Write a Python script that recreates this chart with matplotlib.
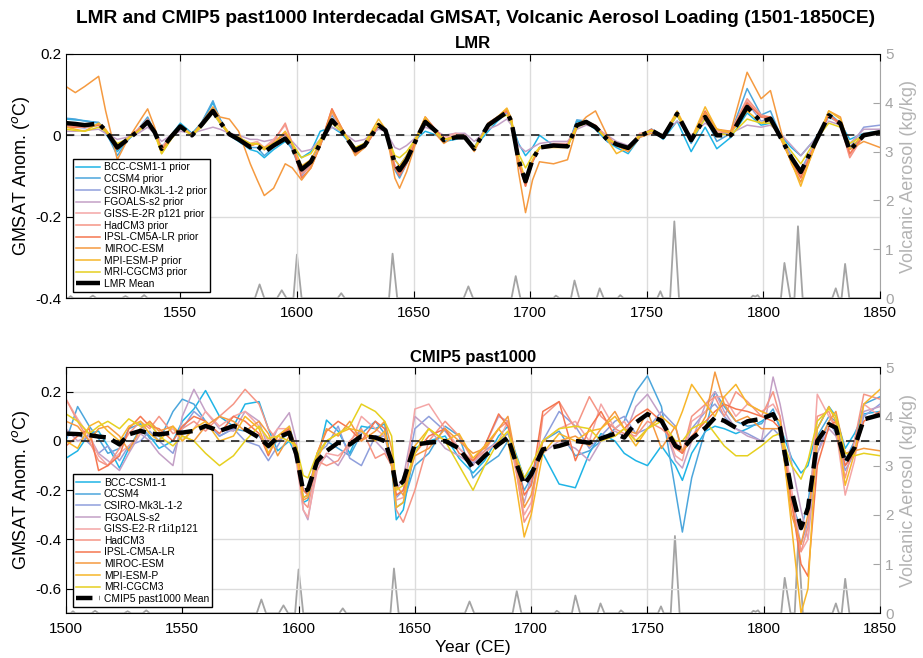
import matplotlib
matplotlib.use("Agg")
import matplotlib.pyplot as plt

plt.rcParams["font.family"] = ["Liberation Sans", "DejaVu Sans"]
plt.rcParams["axes.unicode_minus"] = False

names = ["BCC-CSM1-1", "CCSM4", "CSIRO-Mk3L-1-2", "FGOALS-s2", "GISS-E2-R r1i1p121",
         "HadCM3", "IPSL-CM5A-LR", "MIROC-ESM", "MPI-ESM-P", "MRI-CGCM3"]
lmr_names = ["BCC-CSM1-1 prior", "CCSM4 prior", "CSIRO-Mk3L-1-2 prior", "FGOALS-s2 prior",
             "GISS-E-2R p121 prior", "HadCM3 prior", "IPSL-CM5A-LR prior", "MIROC-ESM",
             "MPI-ESM-P prior", "MRI-CGCM3 prior"]
colors = ["#1fb4e6", "#4ca6dc", "#8f9fdc", "#c3a0c6", "#f4a6a6",
          "#f59585", "#f57650", "#f59a40", "#f7b62a", "#e6d020"]

# ---------------- LMR panel ----------------
yr_t = [1501, 1505, 1509, 1515, 1518, 1523, 1527, 1532, 1536, 1539,
        1542, 1546, 1550, 1555, 1559, 1564, 1567, 1571, 1575, 1580,
        1583, 1586, 1590, 1595, 1598, 1602, 1606, 1610, 1615, 1619,
        1625, 1629, 1635, 1638, 1642, 1644, 1647, 1652, 1655, 1660,
        1663, 1668, 1672, 1676, 1682, 1686, 1690, 1692, 1695, 1698,
        1701, 1704, 1710, 1716, 1720, 1724, 1728, 1733, 1737, 1742,
        1747, 1752, 1757, 1763, 1769, 1775, 1780, 1786, 1793, 1799,
        1803, 1808, 1812, 1816, 1822, 1828, 1833, 1837, 1843, 1850]

lmr_mean = [0.030, 0.028, 0.025, 0.029, 0.012, -0.030, -0.012, 0.011, 0.033, 0.008,
            -0.033, -0.004, 0.022, 0.000, 0.025, 0.060, 0.033, 0.003, -0.010, -0.029,
            -0.025, -0.041, -0.025, -0.008, -0.029, -0.084, -0.065, -0.020, 0.037, 0.012,
            -0.037, -0.025, 0.025, 0.012, -0.070, -0.086, -0.061, 0.000, 0.033, 0.008,
            -0.012, -0.005, -0.005, -0.033, 0.025, 0.041, 0.057, 0.033, -0.061, -0.113,
            -0.060, -0.030, -0.025, -0.027, 0.025, 0.033, 0.020, -0.010, -0.022, -0.031,
            -0.002, 0.012, -0.004, 0.053, -0.012, 0.045, 0.000, 0.000, 0.070, 0.033,
            0.041, -0.012, -0.055, -0.090, -0.020, 0.049, 0.029, -0.037, 0.000, 0.008]

lmr_bcc = [0.040, 0.038, 0.036, 0.030, 0.005, -0.040, -0.015, 0.015, 0.040, 0.010,
           -0.030, 0.000, 0.030, 0.005, 0.030, 0.080, 0.040, 0.000, -0.015, -0.035,
           -0.040, -0.055, -0.035, -0.015, -0.030, -0.055, -0.040, 0.010, 0.020, 0.005,
           -0.035, -0.020, 0.020, 0.010, -0.060, -0.075, -0.050, -0.005, 0.010, 0.000,
           -0.015, -0.010, 0.000, -0.030, 0.010, 0.035, 0.055, 0.030, -0.020, -0.050,
           -0.030, 0.000, -0.025, -0.030, 0.035, 0.030, 0.015, -0.015, -0.030, -0.045,
           -0.005, 0.015, -0.010, 0.035, -0.040, 0.020, -0.033, -0.005, 0.055, 0.025,
           0.030, -0.005, -0.030, -0.050, -0.010, 0.045, 0.030, -0.010, 0.005, 0.010]
lmr_ccsm4 = [0.042, 0.040, 0.035, 0.032, 0.010, -0.050, -0.015, 0.015, 0.045, 0.010,
             -0.035, -0.005, 0.025, 0.000, 0.030, 0.085, 0.040, 0.000, -0.010, -0.030,
             -0.030, -0.050, -0.030, -0.010, -0.035, -0.095, -0.070, -0.015, 0.050, 0.015,
             -0.045, -0.030, 0.025, 0.012, -0.085, -0.105, -0.070, 0.005, 0.040, 0.010,
             -0.015, 0.000, -0.005, -0.030, 0.030, 0.045, 0.060, 0.035, -0.060, -0.120,
             -0.065, -0.030, -0.025, -0.030, 0.038, 0.035, 0.020, -0.015, -0.025, -0.035,
             0.000, 0.015, 0.000, 0.050, -0.020, 0.045, -0.015, 0.005, 0.115, 0.050,
             0.060, -0.010, -0.060, -0.095, -0.020, 0.055, 0.030, -0.035, 0.000, 0.010]
lmr_csiro = [0.020, 0.020, 0.018, 0.025, 0.010, -0.025, -0.010, 0.010, 0.030, 0.005,
             -0.030, -0.005, 0.020, 0.002, 0.020, 0.055, 0.030, 0.003, -0.010, -0.025,
             -0.020, -0.035, -0.020, -0.005, -0.025, -0.100, -0.070, -0.025, 0.040, 0.015,
             -0.035, -0.020, 0.025, 0.010, -0.075, -0.095, -0.065, 0.000, 0.035, 0.010,
             -0.010, -0.005, -0.005, -0.030, 0.025, 0.040, 0.055, 0.030, -0.060, -0.115,
             -0.065, -0.030, -0.025, -0.025, 0.025, 0.030, 0.020, -0.008, -0.020, -0.030,
             -0.003, 0.010, -0.005, 0.050, -0.010, 0.050, 0.005, 0.005, 0.080, 0.035,
             0.040, -0.005, -0.050, -0.085, -0.020, 0.050, 0.030, -0.030, 0.020, 0.025]
lmr_fgoals = [0.010, 0.010, 0.012, 0.015, 0.005, -0.010, -0.005, 0.005, 0.020, 0.005,
              -0.015, 0.000, 0.010, 0.005, 0.012, 0.020, 0.015, 0.005, 0.000, -0.010,
              -0.010, -0.015, -0.010, 0.000, -0.015, -0.040, -0.035, -0.010, 0.020, 0.010,
              -0.015, -0.010, 0.015, 0.010, -0.030, -0.035, -0.025, 0.000, 0.020, 0.010,
              0.000, 0.005, 0.005, -0.015, 0.015, 0.025, 0.040, 0.025, -0.025, -0.040,
              -0.030, -0.020, -0.015, -0.015, 0.015, 0.025, 0.020, 0.000, -0.015, -0.025,
              0.000, 0.010, 0.000, 0.035, 0.000, 0.030, 0.010, 0.005, 0.025, 0.020,
              0.025, 0.000, -0.025, -0.050, -0.010, 0.035, 0.025, -0.020, 0.015, 0.015]
lmr_giss = [0.020, 0.020, 0.020, 0.025, 0.012, -0.030, -0.010, 0.015, 0.035, 0.010,
            -0.030, 0.000, 0.025, 0.002, 0.025, 0.060, 0.035, 0.005, -0.005, -0.020,
            -0.015, -0.030, -0.010, 0.025, -0.020, -0.090, -0.070, -0.025, 0.055, 0.015,
            -0.040, -0.030, 0.025, 0.012, -0.075, -0.090, -0.065, 0.005, 0.040, 0.010,
            -0.005, 0.005, 0.000, -0.035, 0.030, 0.045, 0.060, 0.035, -0.065, -0.120,
            -0.065, -0.030, -0.020, -0.020, 0.025, 0.030, 0.025, -0.005, -0.020, -0.030,
            0.005, 0.010, 0.000, 0.055, -0.010, 0.050, 0.010, 0.010, 0.085, 0.045,
            0.040, -0.010, -0.065, -0.100, -0.020, 0.050, 0.025, -0.050, 0.005, 0.005]
lmr_hadcm3 = [0.025, 0.022, 0.020, 0.025, 0.010, -0.035, -0.010, 0.015, 0.040, 0.010,
              -0.035, -0.005, 0.022, 0.000, 0.025, 0.060, 0.035, 0.000, -0.010, -0.025,
              -0.020, -0.035, -0.015, 0.030, -0.020, -0.095, -0.075, -0.025, 0.065, 0.020,
              -0.045, -0.030, 0.025, 0.015, -0.080, -0.095, -0.065, 0.005, 0.045, 0.010,
              -0.010, 0.000, 0.000, -0.035, 0.030, 0.045, 0.060, 0.035, -0.070, -0.125,
              -0.065, -0.030, -0.025, -0.025, 0.025, 0.035, 0.025, -0.010, -0.025, -0.035,
              0.000, 0.010, -0.005, 0.055, -0.010, 0.050, 0.005, 0.010, 0.090, 0.050,
              0.045, -0.015, -0.065, -0.100, -0.025, 0.050, 0.025, -0.055, 0.000, 0.005]
lmr_ipsl = [0.020, 0.020, 0.022, 0.025, 0.010, -0.030, -0.010, 0.012, 0.035, 0.008,
            -0.035, -0.005, 0.020, 0.000, 0.025, 0.060, 0.035, 0.000, -0.010, -0.025,
            -0.020, -0.035, -0.020, 0.005, -0.025, -0.105, -0.080, -0.025, 0.065, 0.020,
            -0.045, -0.030, 0.025, 0.012, -0.080, -0.100, -0.070, 0.000, 0.045, 0.010,
            -0.010, -0.005, -0.005, -0.035, 0.025, 0.045, 0.060, 0.035, -0.065, -0.125,
            -0.065, -0.030, -0.025, -0.025, 0.025, 0.030, 0.020, -0.010, -0.025, -0.035,
            0.000, 0.015, -0.005, 0.055, -0.010, 0.060, 0.015, 0.005, 0.080, 0.045,
            0.045, -0.015, -0.065, -0.105, -0.025, 0.050, 0.030, -0.045, 0.000, 0.005]
lmr_miroc = [0.120, 0.105, 0.120, 0.145, 0.060, -0.060, -0.015, 0.030, 0.065, 0.020,
             -0.040, 0.000, 0.025, 0.000, 0.030, 0.070, 0.045, 0.040, 0.010, -0.070,
             -0.110, -0.148, -0.130, -0.070, -0.080, -0.110, -0.080, -0.025, 0.060, 0.020,
             -0.050, -0.030, 0.030, 0.015, -0.105, -0.130, -0.090, 0.000, 0.040, 0.000,
             -0.020, 0.000, -0.005, -0.040, 0.030, 0.045, 0.065, 0.040, -0.090, -0.190,
             -0.110, -0.065, -0.070, -0.060, 0.020, 0.045, 0.060, 0.000, -0.025, -0.040,
             -0.005, 0.005, 0.000, 0.050, -0.010, 0.055, 0.015, 0.010, 0.155, 0.090,
             0.110, 0.000, -0.070, -0.115, -0.030, 0.060, 0.045, -0.035, -0.015, -0.030]
lmr_mpi = [0.020, 0.015, 0.010, 0.030, 0.015, -0.025, -0.010, 0.010, 0.030, 0.005,
           -0.045, -0.010, 0.020, 0.000, 0.025, 0.065, 0.035, 0.005, -0.005, -0.025,
           -0.020, -0.030, -0.020, 0.010, -0.020, -0.075, -0.060, -0.015, 0.040, 0.015,
           -0.030, -0.020, 0.040, 0.015, -0.060, -0.075, -0.050, 0.005, 0.045, 0.005,
           -0.010, -0.005, -0.005, -0.035, 0.025, 0.045, 0.067, 0.040, -0.055, -0.110,
           -0.060, -0.030, -0.030, -0.030, 0.025, 0.035, 0.020, -0.010, -0.045, -0.030,
           0.000, 0.012, 0.000, 0.060, -0.010, 0.070, 0.015, 0.005, 0.060, 0.030,
           0.040, -0.015, -0.065, -0.125, -0.025, 0.060, 0.040, -0.030, 0.000, 0.010]
lmr_mri = [0.015, 0.012, 0.010, 0.020, 0.010, -0.020, -0.010, 0.010, 0.030, 0.005,
           -0.045, -0.010, 0.020, 0.000, 0.020, 0.055, 0.030, 0.003, -0.005, -0.020,
           -0.020, -0.035, -0.020, -0.005, -0.020, -0.055, -0.045, -0.010, 0.030, 0.010,
           -0.030, -0.020, 0.030, 0.010, -0.050, -0.055, -0.040, 0.000, 0.035, 0.005,
           -0.010, -0.005, -0.005, -0.030, 0.020, 0.040, 0.050, 0.030, -0.045, -0.080,
           -0.050, -0.030, -0.025, -0.025, 0.020, 0.030, 0.020, -0.010, -0.020, -0.030,
           0.000, 0.012, 0.000, 0.050, -0.010, 0.040, 0.005, 0.000, 0.040, 0.030,
           0.030, -0.010, -0.040, -0.070, -0.015, 0.030, 0.020, -0.020, 0.000, 0.005]

# ---------------- CMIP5 panel ----------------
yr_b = [1500, 1505, 1510, 1514, 1518, 1523, 1527, 1532, 1536, 1540,
        1546, 1550, 1555, 1560, 1566, 1572, 1577, 1583, 1587, 1591,
        1596, 1599, 1602, 1604, 1608, 1612, 1617, 1622, 1627, 1633,
        1637, 1640, 1642, 1645, 1650, 1656, 1663, 1669, 1675, 1680,
        1686, 1690, 1693, 1697, 1700, 1705, 1712, 1719, 1725, 1730,
        1736, 1740, 1745, 1750, 1756, 1762, 1765, 1769, 1775, 1779,
        1783, 1788, 1793, 1799, 1804, 1807, 1812, 1816, 1819, 1823,
        1828, 1831, 1835, 1839, 1843, 1850]

cmip_mean = [0.030, 0.028, 0.024, 0.018, 0.014, -0.014, 0.027, 0.041, 0.030, 0.027,
             0.034, 0.034, 0.041, 0.061, 0.041, 0.061, 0.048, 0.014, -0.020, 0.014,
             0.034, -0.054, -0.204, -0.197, -0.082, -0.041, -0.007, -0.014, 0.020, 0.014,
             0.000, -0.082, -0.190, -0.163, -0.014, -0.007, 0.000, -0.030, -0.109, -0.061,
             -0.014, 0.014, -0.075, -0.177, -0.136, -0.034, -0.020, 0.000, -0.007, 0.010,
             0.030, 0.014, 0.075, 0.109, 0.082, -0.020, -0.034, 0.010, 0.054, 0.095,
             0.082, 0.054, 0.080, 0.090, 0.109, 0.054, -0.204, -0.354, -0.272, 0.000,
             0.068, 0.054, -0.088, -0.027, 0.088, 0.106]

cmip_bcc = [-0.070, -0.040, 0.030, 0.040, -0.020, -0.110, -0.030, 0.050, 0.020, -0.030,
            0.000, 0.080, 0.130, 0.205, 0.100, 0.060, 0.150, 0.160, 0.050, -0.040,
            0.000, -0.060, -0.250, -0.240, -0.080, 0.085, 0.040, -0.050, 0.060, 0.050,
            0.070, -0.100, -0.320, -0.280, -0.030, 0.000, 0.020, -0.070, -0.130, -0.080,
            0.020, 0.060, -0.040, -0.150, -0.120, -0.050, -0.175, -0.190, -0.050, 0.030,
            0.000, -0.050, -0.080, -0.100, -0.020, -0.100, -0.160, -0.050, 0.040, 0.060,
            0.050, 0.030, 0.050, 0.080, 0.110, 0.060, -0.070, -0.130, -0.100, 0.050,
            0.140, 0.100, -0.030, 0.030, 0.110, 0.120]
cmip_ccsm4 = [0.000, 0.140, 0.060, 0.010, -0.050, -0.030, 0.050, 0.070, 0.010, 0.000,
              0.120, 0.170, 0.150, 0.080, 0.020, 0.050, 0.040, 0.020, -0.030, 0.000,
              0.030, -0.050, -0.230, -0.220, -0.060, 0.000, -0.030, -0.060, 0.030, 0.080,
              0.030, -0.080, -0.270, -0.250, -0.100, -0.050, 0.060, 0.020, -0.150, -0.100,
              -0.060, 0.000, -0.080, -0.200, -0.150, 0.000, 0.040, -0.060, -0.040, 0.000,
              0.050, 0.080, 0.200, 0.265, 0.140, -0.200, -0.370, -0.150, 0.050, 0.200,
              0.140, 0.080, 0.060, 0.070, 0.130, 0.050, -0.250, -0.360, -0.250, 0.020,
              0.100, 0.080, -0.080, 0.000, 0.150, 0.180]
cmip_csiro = [0.020, 0.030, -0.010, -0.050, -0.020, -0.080, -0.020, 0.000, 0.040, 0.000,
              -0.050, 0.050, 0.120, 0.080, 0.020, 0.050, 0.000, -0.020, -0.080, -0.020,
              0.060, -0.030, -0.200, -0.210, -0.050, -0.020, 0.060, -0.070, -0.100, 0.020,
              0.020, -0.100, -0.230, -0.200, 0.050, 0.100, 0.040, -0.030, -0.090, -0.040,
              0.000, 0.030, -0.050, -0.150, -0.180, 0.000, 0.120, 0.060, -0.030, 0.020,
              0.080, 0.100, 0.030, 0.050, 0.120, 0.060, -0.050, 0.050, 0.120, 0.150,
              0.100, 0.050, 0.030, 0.000, 0.050, 0.020, -0.250, -0.420, -0.330, -0.050,
              0.080, 0.030, -0.120, -0.050, 0.100, 0.150]
cmip_fgoals = [0.050, 0.000, 0.020, -0.050, -0.080, -0.120, -0.050, 0.030, 0.000, -0.050,
               -0.100, 0.100, 0.210, 0.120, 0.050, 0.040, 0.120, 0.080, -0.030, 0.050,
               0.115, 0.000, -0.280, -0.320, -0.100, -0.060, -0.100, -0.020, 0.040, 0.000,
               -0.040, -0.080, -0.200, -0.150, 0.100, 0.050, -0.030, -0.060, -0.100, -0.020,
               0.100, 0.080, -0.100, -0.250, -0.150, -0.050, 0.000, -0.030, -0.080, 0.000,
               0.040, 0.020, 0.140, 0.190, 0.100, -0.080, -0.110, 0.000, 0.150, 0.200,
               0.120, 0.050, 0.020, 0.000, 0.260, 0.150, -0.090, -0.280, -0.400, -0.050,
               0.050, 0.020, -0.100, -0.030, 0.120, 0.140]
cmip_giss = [0.170, 0.090, 0.020, -0.060, -0.100, -0.050, -0.020, 0.030, 0.080, 0.020,
             0.050, 0.000, 0.050, 0.120, 0.060, 0.100, 0.120, 0.060, 0.000, 0.050,
             0.050, -0.080, -0.280, -0.310, -0.120, -0.050, -0.060, -0.020, 0.100, 0.050,
             0.020, -0.080, -0.240, -0.230, 0.130, 0.150, 0.050, -0.030, -0.080, -0.050,
             0.000, 0.080, -0.100, -0.300, -0.250, 0.000, 0.050, 0.080, 0.000, 0.150,
             0.050, 0.080, 0.000, 0.050, 0.100, -0.060, -0.080, 0.080, 0.120, 0.180,
             0.180, 0.100, 0.150, 0.120, 0.150, 0.100, -0.200, -0.450, -0.400, 0.190,
             0.100, 0.050, -0.220, -0.080, 0.150, 0.100]
cmip_hadcm3 = [0.170, 0.080, 0.000, -0.080, -0.100, -0.030, 0.030, 0.080, 0.050, 0.100,
               0.030, 0.050, 0.080, 0.040, 0.100, 0.150, 0.210, 0.150, 0.050, 0.000,
               0.050, -0.050, -0.250, -0.270, -0.080, -0.100, -0.080, 0.000, 0.050, -0.070,
               -0.050, -0.100, -0.280, -0.330, -0.200, 0.000, 0.080, 0.020, -0.080, -0.040,
               0.050, 0.080, -0.080, -0.330, -0.280, 0.100, 0.160, 0.050, 0.180, 0.100,
               0.050, 0.030, 0.020, 0.080, 0.050, 0.000, -0.050, 0.100, 0.150, 0.180,
               0.100, 0.200, 0.160, 0.100, 0.200, 0.100, -0.250, -0.450, -0.350, 0.100,
               0.120, 0.050, -0.150, 0.000, 0.190, 0.170]
cmip_ipsl = [-0.020, 0.020, 0.050, -0.120, -0.100, -0.060, 0.050, 0.100, 0.060, 0.050,
             0.000, 0.060, 0.100, 0.080, 0.030, 0.100, 0.080, 0.030, -0.060, 0.020,
             0.050, -0.030, -0.200, -0.220, -0.050, 0.040, 0.080, 0.050, 0.000, 0.080,
             0.050, -0.100, -0.220, -0.200, -0.050, 0.020, 0.050, -0.050, -0.080, -0.020,
             0.110, 0.060, -0.050, -0.220, -0.180, 0.120, 0.160, -0.080, 0.050, 0.120,
             0.020, 0.050, 0.100, 0.130, 0.080, -0.030, -0.050, 0.020, 0.080, 0.120,
             0.150, 0.130, 0.120, 0.100, 0.080, 0.050, -0.250, -0.500, -0.550, -0.100,
             0.060, 0.080, -0.100, -0.050, 0.080, 0.120]
cmip_miroc = [0.080, 0.060, 0.000, 0.050, 0.060, 0.020, -0.040, 0.050, 0.080, 0.040,
              0.060, 0.020, 0.000, 0.060, 0.100, 0.080, 0.040, 0.080, 0.030, -0.060,
              0.020, -0.020, -0.240, -0.230, -0.050, 0.050, 0.020, 0.080, 0.000, 0.040,
              0.080, -0.030, -0.180, -0.220, -0.060, -0.030, 0.050, 0.000, -0.050, -0.030,
              0.050, 0.100, -0.050, -0.270, -0.220, 0.000, 0.000, 0.020, -0.020, 0.050,
              0.120, 0.050, 0.030, 0.120, -0.030, 0.060, -0.040, 0.000, 0.100, 0.280,
              0.150, 0.080, 0.100, 0.050, 0.050, 0.050, -0.300, -0.420, -0.300, -0.020,
              0.080, 0.120, -0.050, -0.040, -0.030, -0.040]
cmip_mpi = [0.000, -0.030, 0.060, 0.080, 0.040, 0.000, 0.060, 0.080, 0.030, 0.000,
            0.060, 0.000, 0.050, 0.080, 0.000, 0.020, 0.100, 0.050, -0.050, 0.020,
            0.060, -0.050, -0.230, -0.220, -0.070, 0.000, 0.030, 0.050, 0.040, 0.000,
            0.040, -0.100, -0.270, -0.250, -0.020, 0.050, 0.000, 0.030, -0.070, -0.020,
            0.050, 0.000, -0.150, -0.390, -0.300, -0.050, 0.030, 0.000, 0.040, 0.050,
            0.100, 0.050, -0.020, 0.050, 0.100, 0.050, 0.120, 0.230, 0.150, 0.100,
            0.180, 0.230, 0.150, 0.120, 0.100, 0.080, -0.350, -0.700, -0.600, 0.050,
            0.140, 0.080, -0.180, -0.050, 0.150, 0.210]
cmip_mri = [0.110, 0.080, 0.030, 0.060, 0.080, 0.050, 0.090, 0.060, 0.070, 0.020,
            -0.020, 0.020, 0.000, -0.050, -0.100, -0.060, 0.000, 0.060, 0.010, 0.020,
            0.000, -0.020, -0.140, -0.150, -0.050, 0.000, 0.030, 0.060, 0.150, 0.120,
            0.080, 0.020, -0.200, -0.180, -0.050, 0.050, 0.000, -0.100, -0.200, -0.100,
            0.000, 0.040, -0.050, -0.150, -0.100, 0.000, 0.050, 0.060, 0.050, 0.000,
            0.020, 0.050, 0.000, 0.050, 0.080, 0.000, 0.000, 0.050, 0.080, 0.030,
            -0.020, -0.060, -0.060, -0.020, 0.020, 0.030, -0.100, -0.155, -0.080, 0.080,
            0.130, 0.100, -0.050, -0.060, -0.050, -0.060]

# ---------------- volcanic aerosol ----------------
vol_years = [1500, 1502, 1503, 1504, 1511, 1512.5, 1514, 1525, 1526.5, 1528, 1533, 1534.5, 1536,
             1582, 1584, 1586, 1591.5, 1593.5, 1595.5, 1598.5, 1600, 1602, 1617.5, 1619, 1620.5,
             1639.5, 1641, 1643, 1671.5, 1673.5, 1675.5, 1692, 1693.8, 1695.8, 1710, 1711, 1712.5,
             1717.5, 1719, 1721, 1728.5, 1729.8, 1731.5, 1737.5, 1738.6, 1740, 1754.5, 1755.8, 1757,
             1760, 1761.8, 1763.8, 1794.5, 1795.5, 1796.5, 1797.5, 1798.5, 1807.5, 1809, 1811.5,
             1813.3, 1814.8, 1816.8, 1829.5, 1831, 1832.3, 1833.5, 1835, 1836.8, 1850]
vol_values = [0, 0, 0.04, 0, 0, 0.05, 0, 0, 0.04, 0, 0, 0.06, 0,
              0, 0.28, 0, 0, 0.16, 0, 0, 0.89, 0, 0, 0.10, 0,
              0, 0.91, 0, 0, 0.24, 0, 0, 0.45, 0, 0, 0.05, 0,
              0, 0.36, 0, 0, 0.20, 0, 0, 0.06, 0, 0, 0.14, 0,
              0, 1.57, 0, 0, 0.05, 0.03, 0.06, 0, 0, 0.72, 0,
              0, 1.47, 0, 0, 0.20, 0, 0, 0.70, 0, 0]

lmr_series = [lmr_bcc, lmr_ccsm4, lmr_csiro, lmr_fgoals, lmr_giss,
              lmr_hadcm3, lmr_ipsl, lmr_miroc, lmr_mpi, lmr_mri]
cmip_series = [cmip_bcc, cmip_ccsm4, cmip_csiro, cmip_fgoals, cmip_giss,
               cmip_hadcm3, cmip_ipsl, cmip_miroc, cmip_mpi, cmip_mri]

GRAY = "#a4a4a4"


def draw_panel(ax, years, series, mean, labels, mean_label, mean_ls,
               xlim, xticks, ylim, yticks, title):
    ax2 = ax.twinx()
    ax2.plot(vol_years, vol_values, color=GRAY, lw=1.3)
    ax2.set_ylim(0, 5)
    ax2.set_yticks([0, 1, 2, 3, 4, 5])
    ax2.tick_params(axis="y", direction="in", length=5, colors=GRAY, labelsize=11)
    for s in ["top", "left", "bottom"]:
        ax2.spines[s].set_visible(False)
    ax2.spines["right"].set_color(GRAY)
    ax2.set_ylabel("Volcanic Aerosol (kg/kg)", color="#b4b4b4", fontsize=13, labelpad=5)

    ax.set_zorder(ax2.get_zorder() + 1)
    ax.patch.set_visible(False)

    handles = []
    for vals, lab, c in zip(series, labels, colors):
        h, = ax.plot(years, vals, color=c, lw=1.1, label=lab)
        handles.append(h)
    ax.axhline(0, color="#222222", lw=1.2, ls=(0, (5, 4)))
    h, = ax.plot(years, mean, color="black", lw=3.2, ls=mean_ls, label=mean_label)
    handles.append(h)

    ax.set_xlim(*xlim)
    ax.set_ylim(*ylim)
    ax.set_xticks(xticks)
    ax.set_yticks(yticks)
    ax.set_yticklabels(["%g" % v for v in yticks])
    ax.grid(True, color="#dcdcdc", lw=1)
    ax.tick_params(direction="in", top=True, right=False, length=5, labelsize=11)
    ax.tick_params(axis="x", pad=6)
    ax.spines["right"].set_visible(False)
    ax.set_ylabel("GMSAT Anom. ($^{o}$C)", fontsize=13, labelpad=2)
    ax.set_title(title, fontsize=12, fontweight="bold", pad=4)

    leg = ax.legend(handles=handles, loc="lower left", bbox_to_anchor=(0.009, 0.025),
                    borderaxespad=0, fontsize=7.4, handlelength=2.3, labelspacing=0.16,
                    borderpad=0.3, handletextpad=0.35, fancybox=False, framealpha=1)
    leg.get_frame().set_edgecolor("black")
    leg.get_frame().set_linewidth(1.0)
    return ax2


fig = plt.figure(figsize=(9.23, 6.58), dpi=100)
ax_top = fig.add_axes([0.0715, 0.547, 0.882, 0.371])
ax_bot = fig.add_axes([0.0715, 0.068, 0.882, 0.374])

draw_panel(ax_top, yr_t, lmr_series, lmr_mean, lmr_names, "LMR Mean", "-.",
           (1501, 1850), [1550, 1600, 1650, 1700, 1750, 1800, 1850],
           (-0.4, 0.2), [-0.4, -0.2, 0, 0.2], "LMR")
draw_panel(ax_bot, yr_b, cmip_series, cmip_mean, names, "CMIP5 past1000 Mean", "--",
           (1500, 1850), [1500, 1550, 1600, 1650, 1700, 1750, 1800, 1850],
           (-0.7, 0.3), [-0.6, -0.4, -0.2, 0, 0.2], "CMIP5 past1000")
ax_bot.set_xlabel("Year (CE)", fontsize=12.5, labelpad=3)

fig.text(0.515, 0.972,
         "LMR and CMIP5 past1000 Interdecadal GMSAT, Volcanic Aerosol Loading (1501-1850CE)",
         ha="center", va="center", fontsize=13.8, fontweight="bold")

fig.savefig("out.png", dpi=100)
